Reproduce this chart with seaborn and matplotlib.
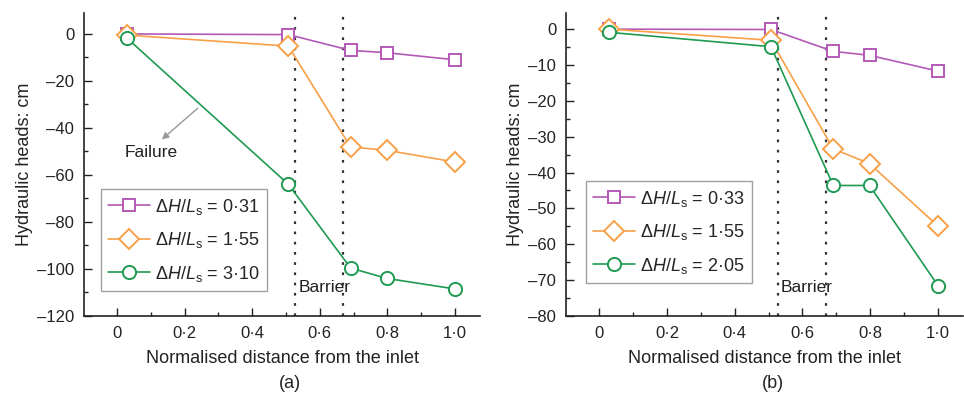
import matplotlib
matplotlib.use("Agg")
import matplotlib.pyplot as plt
from matplotlib.ticker import MultipleLocator, FuncFormatter
import seaborn as sns
import pandas as pd

# ---------------- data ----------------
x_pos = [0.03, 0.507, 0.691, 0.798, 1.0]

labels_a = ["0·31", "1·55", "3·10"]
purple_a = [0.0, -0.3, -7.0, -8.0, -11.0]
orange_a = [-0.5, -5.2, -48.1, -49.5, -54.5]
green_a = [-1.9, -64.0, -99.6, -104.0, -108.5]

labels_b = ["0·33", "1·55", "2·05"]
purple_b = [0.0, -0.1, -6.2, -7.3, -11.7]
orange_b = [0.0, -3.1, -33.4, -37.5, -54.9]
green_b = [-0.9, -4.9, -43.6, -43.6, -71.5]

barrier_x = [0.527, 0.669]

colors = ["#b359b6", "#f7a048", "#1f9a52"]
markers = ["s", "D", "o"]
msizes = [9, 10, 9.5]

sns.set_theme(style="ticks")
plt.rcParams["font.family"] = ["Liberation Sans", "DejaVu Sans"]
plt.rcParams["mathtext.fontset"] = "custom"
plt.rcParams["mathtext.rm"] = "Liberation Sans"
plt.rcParams["mathtext.it"] = "Liberation Sans:italic"
plt.rcParams["mathtext.sf"] = "Liberation Sans"

fig = plt.figure(figsize=(9.64, 3.94), dpi=100)
ax_a = fig.add_axes([84 / 964, 1 - 316 / 394, (480 - 84) / 964, (316 - 13) / 394])
ax_b = fig.add_axes([566 / 964, 1 - 316 / 394, (963 - 566) / 964, (316 - 13) / 394])


def fmt(v, pos):
    if abs(v) < 1e-9:
        return "0"
    return f"{v:.1f}".replace(".", "·").replace("-", "−")


def draw(ax, series, labels, ylim, ymajor, yminor, legend_loc):
    for vals, lab, c, m, ms in zip(series, labels, colors, markers, msizes):
        df = pd.DataFrame({"x": x_pos, "h": vals})
        sns.lineplot(data=df, x="x", y="h", ax=ax, color=c, marker=m, ms=ms,
                     mfc="white", mec=c, mew=1.4, lw=1.2,
                     label=r"$\Delta H/L_\mathrm{s}$ = " + lab)
    for bx in barrier_x:
        ax.axvline(bx, color="#333333", ls=(0, (1.2, 3.4)), lw=1.6, zorder=1)
    ax.set_xlim(-0.098, 1.074)
    ax.set_ylim(*ylim)
    ax.xaxis.set_major_locator(MultipleLocator(0.2))
    ax.xaxis.set_minor_locator(MultipleLocator(0.1))
    ax.yaxis.set_major_locator(MultipleLocator(ymajor))
    ax.yaxis.set_minor_locator(MultipleLocator(yminor))
    ax.xaxis.set_major_formatter(FuncFormatter(fmt))
    ax.yaxis.set_major_formatter(FuncFormatter(lambda v, p: "0" if abs(v) < 1e-9 else f"{int(round(v))}".replace("-", "–")))
    ax.tick_params(which="both", direction="in", width=1.0, color="#222222", labelsize=12, labelcolor="#222222")
    ax.tick_params(which="major", length=6, pad=7)
    ax.tick_params(which="minor", length=3)
    for s in ["top", "right"]:
        ax.spines[s].set_visible(False)
    for s in ["left", "bottom"]:
        ax.spines[s].set_linewidth(1.2)
        ax.spines[s].set_color("#222222")
    ax.set_xlabel("Normalised distance from the inlet", fontsize=13, color="#222222", labelpad=7)
    ax.set_ylabel("Hydraulic heads: cm", fontsize=13, color="#222222", labelpad=3)
    leg = ax.legend(loc="lower left", bbox_to_anchor=legend_loc, fontsize=13,
                    frameon=True, fancybox=False, edgecolor="#888888",
                    handlelength=2.3, handletextpad=0.3, labelspacing=0.75,
                    borderpad=0.4, borderaxespad=0)
    leg.get_frame().set_linewidth(1.0)
    return ax


draw(ax_a, [purple_a, orange_a, green_a], labels_a, (-120, 8.9), 20, 10,
     ((101 - 84) / 396, (316 - 291) / 303))
draw(ax_b, [purple_b, orange_b, green_b], labels_b, (-80, 4.5), 10, 5,
     ((586 - 566) / 397, (316 - 283) / 303))

# annotations
ax_a.annotate("", xy=(0.126, -45.7), xytext=(0.245, -30.8),
              arrowprops=dict(arrowstyle="-|>", color="#999999", lw=1.0, mutation_scale=10))
ax_a.text(0.101, -50.6, "Failure", ha="center", va="center", fontsize=12.5, color="#222222")
ax_a.text(0.536, -107.7, "Barrier", ha="left", va="center", fontsize=12.5, color="#222222")
ax_b.text(0.535, -72.0, "Barrier", ha="left", va="center", fontsize=12.5, color="#222222")

fig.text(290 / 964, 1 - 383 / 394, "(a)", ha="center", va="center", fontsize=13, color="#222222")
fig.text(773 / 964, 1 - 383 / 394, "(b)", ha="center", va="center", fontsize=13, color="#222222")

fig.savefig("out.png", dpi=100)
